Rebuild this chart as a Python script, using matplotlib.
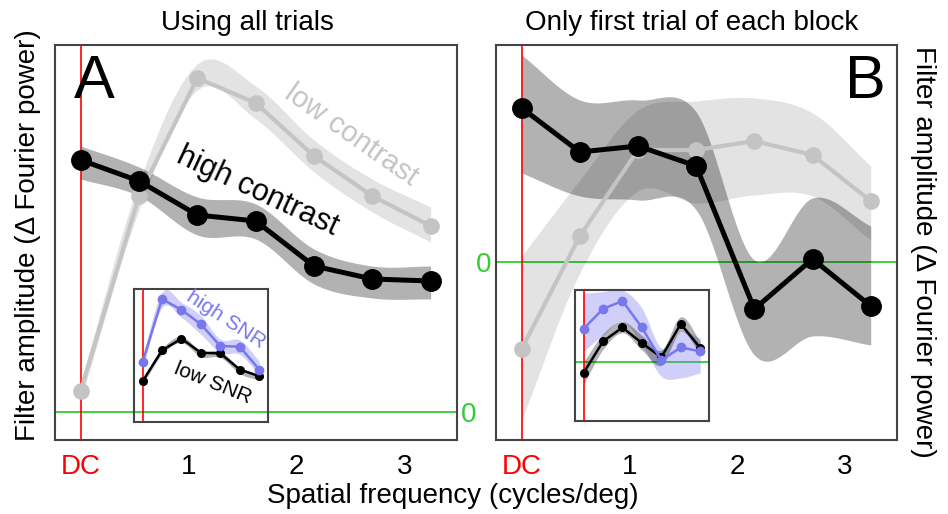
""" filter amplitude vs spatial frequency, two panels with insets
"""
import matplotlib
matplotlib.use('Agg')
import matplotlib.pyplot as plt
import numpy as np

plt.rcParams['font.family'] = ['Liberation Sans', 'DejaVu Sans']

freq = [0, 0.54, 1.08, 1.62, 2.16, 2.70, 3.24]
tick_pos = [0, 1, 2, 3]
tick_lbl = ['DC', '1', '2', '3']

# panel A: all trials
a_high = [2.52, 2.31, 1.97, 1.91, 1.46, 1.33, 1.31]
a_high_lo = [2.33, 2.16, 1.77, 1.73, 1.28, 1.14, 1.13]
a_high_hi = [2.66, 2.45, 2.15, 2.08, 1.63, 1.46, 1.46]
a_low = [0.21, 2.16, 3.34, 3.09, 2.56, 2.16, 1.86]
a_low_lo = [0.12, 2.02, 3.22, 2.93, 2.40, 2.00, 1.70]
a_low_hi = [0.30, 2.30, 3.48, 3.26, 2.72, 2.33, 2.05]
# inset A: SNR split
a_snr_hi = [1.49, 3.37, 3.05, 2.62, 1.97, 1.95, 1.27]
a_snr_hi_lo = [1.32, 3.12, 2.82, 2.32, 1.77, 1.72, 1.10]
a_snr_hi_hi = [1.67, 3.57, 3.27, 2.87, 2.17, 2.15, 1.52]
a_snr_lo = [0.92, 1.84, 2.19, 1.77, 1.75, 1.27, 1.07]
a_snr_lo_lo = [0.82, 1.72, 2.07, 1.65, 1.63, 1.15, 0.95]
a_snr_lo_hi = [0.98, 1.90, 2.25, 1.83, 1.81, 1.33, 1.13]

# panel B: first trial of each block
b_high = [1.54, 1.10, 1.16, 0.96, -0.47, 0.03, -0.44]
b_high_lo = [0.89, 0.66, 0.62, 0.52, -0.93, -0.74, -0.83]
b_high_hi = [2.07, 1.62, 1.62, 1.50, 0.02, 0.64, 0.36]
b_low = [-0.87, 0.26, 1.12, 1.12, 1.21, 1.07, 0.61]
b_low_lo = [-1.58, -0.11, 0.71, 0.59, 0.67, 0.66, 0.22]
b_low_hi = [0.06, 0.82, 1.52, 1.61, 1.64, 1.49, 0.96]
# inset B
b_snr_hi = [1.00, 1.60, 1.84, 1.04, 0.05, 0.44, 0.32]
b_snr_hi_lo = [0.32, 0.82, 1.22, 0.52, -0.43, -0.48, -0.33]
b_snr_hi_hi = [2.07, 2.12, 2.17, 1.62, 0.42, 0.92, 0.72]
b_snr_lo = [-0.33, 0.62, 1.04, 0.57, 0.14, 1.15, 0.42]
b_snr_lo_lo = [-0.68, 0.38, 0.88, 0.36, -0.10, 0.92, 0.22]
b_snr_lo_hi = [0.00, 0.85, 1.22, 0.80, 0.36, 1.36, 0.62]

W, H = 948, 514
GREEN = '#33cc33'
BLUE = '#7777ee'
LGRAY = '#c4c4c4'
SPINE = '#444444'


def smooth(x, y, n=30):
    # cubic hermite through the points, only for drawing the band edges
    x = np.asarray(x, float)
    y = np.asarray(y, float)
    m = np.gradient(y, x)
    xs, ys = [], []
    for i in range(len(x) - 1):
        h = x[i + 1] - x[i]
        t = np.linspace(0, 1, n, endpoint=False)
        h00 = 2 * t ** 3 - 3 * t ** 2 + 1
        h10 = t ** 3 - 2 * t ** 2 + t
        h01 = -2 * t ** 3 + 3 * t ** 2
        h11 = t ** 3 - t ** 2
        xs.append(x[i] + t * h)
        ys.append(h00 * y[i] + h10 * h * m[i] + h01 * y[i + 1] + h11 * h * m[i + 1])
    xs.append([x[-1]])
    ys.append([y[-1]])
    return np.concatenate(xs), np.concatenate(ys)


def band(ax, lo, hi, color, alpha, z):
    xs, ylo = smooth(freq, lo)
    _, yhi = smooth(freq, hi)
    ax.fill_between(xs, ylo, yhi, color=color, alpha=alpha, lw=0, zorder=z)


def frame(ax, ylim):
    ax.set_xlim(-0.238, 3.484)
    ax.set_ylim(*ylim)
    for s in ax.spines.values():
        s.set_color(SPINE)
        s.set_linewidth(1.5)
    ax.axhline(0, color=GREEN, lw=1.3, zorder=0)
    ax.axvline(0, color='red', lw=1.2, zorder=3)


def main_panel(ax, high, high_lo, high_hi, low, low_lo, low_hi, ylim):
    frame(ax, ylim)
    band(ax, low_lo, low_hi, 'k', 0.11, 1)
    ax.plot(freq, low, '-o', color=LGRAY, lw=3, ms=11, zorder=4)
    band(ax, high_lo, high_hi, 'k', 0.30, 2)
    ax.plot(freq, high, '-o', color='k', lw=3.6, ms=14, zorder=5)
    ax.set_xticks(tick_pos)
    ax.set_xticklabels(tick_lbl, fontsize=20)
    ax.get_xticklabels()[0].set_color('red')
    ax.tick_params(length=0, pad=10)
    ax.set_yticks([0])
    ax.set_yticklabels(['0'], fontsize=20, color=GREEN)


def inset(ax, hi, hi_lo, hi_hi, lo, lo_lo, lo_hi, ylim):
    frame(ax, ylim)
    ax.set_xticks([])
    ax.set_yticks([])
    band(ax, hi_lo, hi_hi, BLUE, 0.35, 1)
    band(ax, lo_lo, lo_hi, 'k', 0.30, 2)
    ax.plot(freq, lo, '-o', color='k', lw=1.8, ms=5.5, zorder=4)
    ax.plot(freq, hi, '-o', color=BLUE, lw=1.8, ms=6, zorder=5)


def px_axes(fig, x0, y0, x1, y1):
    return fig.add_axes([x0 / W, 1 - y1 / H, (x1 - x0) / W, (y1 - y0) / H])


def main():
    fig = plt.figure(figsize=(W / 100, H / 100), dpi=100)

    ax_a = px_axes(fig, 55, 45, 457, 440)
    ax_b = px_axes(fig, 496, 45, 897, 440)
    ylim_a = (-0.28, 3.67)
    ylim_b = (-1.78, 2.17)
    main_panel(ax_a, a_high, a_high_lo, a_high_hi, a_low, a_low_lo, a_low_hi, ylim_a)
    main_panel(ax_b, b_high, b_high_lo, b_high_hi, b_low, b_low_lo, b_low_hi, ylim_b)
    ax_a.yaxis.tick_right()
    ax_a.tick_params(axis='y', pad=3)
    ax_b.tick_params(axis='y', pad=3)

    ax_a.text(1.64, 2.21, 'high contrast', fontsize=22, rotation=-25,
              ha='center', va='center', zorder=6)
    ax_a.text(2.51, 2.77, 'low contrast', fontsize=21, rotation=-35,
              color=LGRAY, ha='center', va='center', zorder=6)
    ax_a.text(0.13, 3.30, 'A', fontsize=44, ha='center', va='center')
    ax_b.text(3.19, 1.80, 'B', fontsize=44, ha='center', va='center')

    in_a = px_axes(fig, 134, 289, 268, 421.5)
    in_b = px_axes(fig, 575, 290, 709, 421)
    inset(in_a, a_snr_hi, a_snr_hi_lo, a_snr_hi_hi, a_snr_lo, a_snr_lo_lo, a_snr_lo_hi, ylim_a)
    inset(in_b, b_snr_hi, b_snr_hi_lo, b_snr_hi_hi, b_snr_lo, b_snr_lo_lo, b_snr_lo_hi, ylim_b)
    in_a.text(2.30, 2.75, 'high SNR', fontsize=15, rotation=-33, color=BLUE,
              ha='center', va='center', zorder=6)
    in_a.text(1.95, 0.85, 'low SNR', fontsize=15, rotation=-22,
              ha='center', va='center', zorder=6)

    fig.text(247 / W, 1 - 23 / H, 'Using all trials', fontsize=20, ha='center', va='center')
    fig.text(692 / W, 1 - 23 / H, 'Only first trial of each block', fontsize=20,
             ha='center', va='center')
    fig.text(28 / W, 1 - 235 / H, 'Filter amplitude (\u0394 Fourier power)', fontsize=20,
             rotation=90, ha='center', va='center')
    fig.text(923 / W, 1 - 252 / H, 'Filter amplitude (\u0394 Fourier power)', fontsize=20,
             rotation=-90, ha='center', va='center')
    fig.text(453 / W, 1 - 496 / H, 'Spatial frequency (cycles/deg)', fontsize=20,
             ha='center', va='center')

    fig.savefig('out.png', dpi=100)


if __name__ == '__main__':
    main()
